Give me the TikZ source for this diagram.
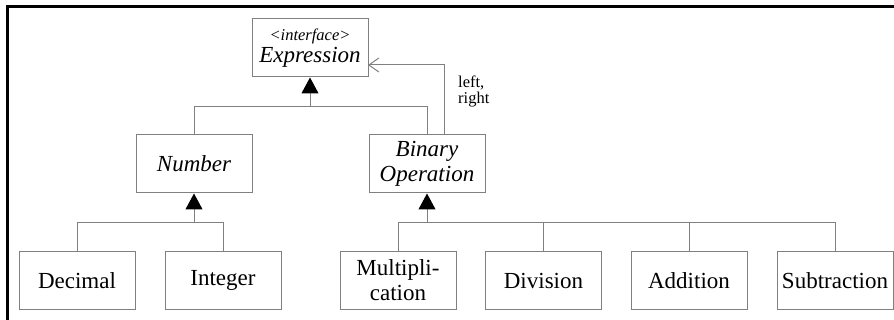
\documentclass[tikz,border=0pt]{standalone}
\usepackage{fontspec}
\setmainfont{Liberation Serif}
\usetikzlibrary{arrows.meta}
\begin{document}
\begin{tikzpicture}[x=1pt,y=-1pt,
  box/.style={draw=gray, line width=1pt, minimum width=116pt, minimum height=58pt, inner sep=0pt, align=center, font=\fontsize{23}{25}\selectfont},
  conn/.style={draw=gray, line width=1pt},
  inh/.style={conn, -{Triangle[width=17pt,length=16pt,fill=black,color=black]}},
  assoc/.style={conn, -{Straight Barb[width=14pt,length=10pt,line width=1pt]}}
]
\useasboundingbox (0,0) rectangle (894,320);
\draw[line width=3pt] (7,320) -- (7,7) -- (894,7);

\node[box] (expr) at (310,48) {{\fontsize{16.5}{18}\selectfont\itshape <interface>}\\[-3pt]\textit{Expression}};
\node[box] (num) at (194,164) {\textit{Number}};
\node[box] (bin) at (427,164) {\textit{Binary}\\\textit{Operation}};

\node[box] (dec) at (77,280.5) {Decimal};
\node[box] (int) at (223,280.5) {Integer};
\node[box] (mul) at (398,280.5) {Multipli-\\cation};
\node[box] (div) at (543.5,280.5) {Division};
\node[box] (add) at (689,280.5) {Addition};
\node[box] (sub) at (835,280.5) {Subtraction};

% Expression hierarchy
\coordinate (j1) at (310,106.5);
\draw[inh] (j1) -- (expr.south);
\draw[conn] (num.north) |- (j1) -| (bin.north);

% association
\coordinate (a1) at (444,135);
\coordinate (a2) at (444,65);
\coordinate (a3) at (368,65);
\draw[assoc] (a1) -- (a2) -- (a3);
\node[anchor=north west, align=left, inner sep=0pt, font=\fontsize{16.5}{16}\selectfont] (lbl) at (458,76) {left,\\right};

% Number subclasses
\coordinate (j2) at (194,223);
\draw[inh] (j2) -- (num.south);
\draw[conn] (dec.north) |- (int.north |- j2) -- (int.north);

% Binary subclasses
\coordinate (j3) at (427,223);
\draw[inh] (j3) -- (bin.south);
\draw[conn] (mul.north) |- (sub.north |- j3) -- (sub.north);
\draw[conn] (div.north) -- (div.north |- j3);
\draw[conn] (add.north) -- (add.north |- j3);
\end{tikzpicture}
\end{document}
